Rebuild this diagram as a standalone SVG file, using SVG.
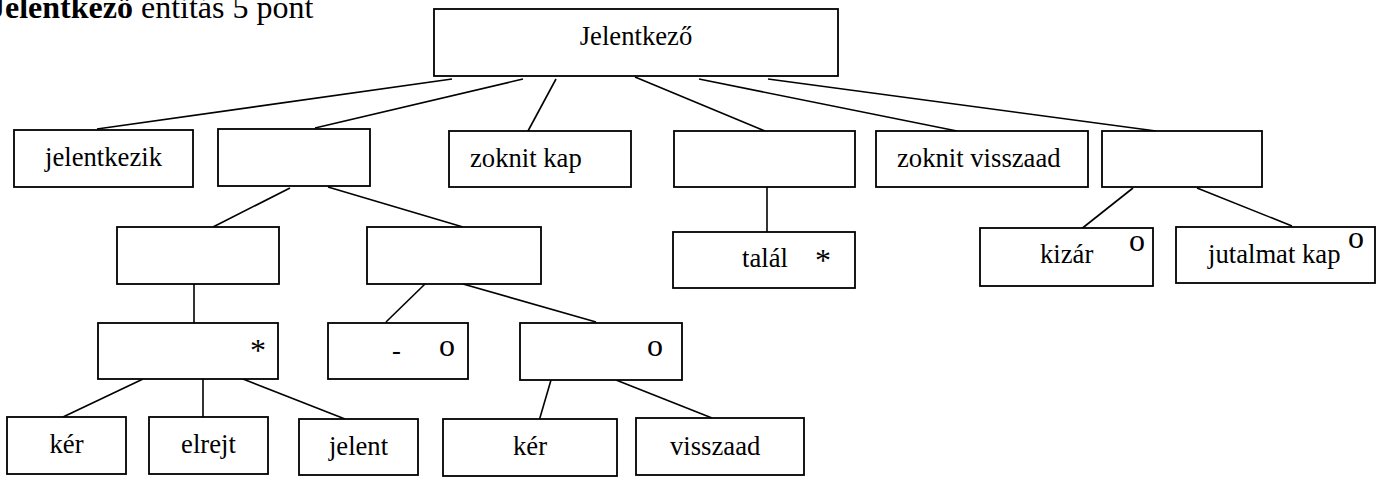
<svg xmlns="http://www.w3.org/2000/svg" width="1388" height="478" viewBox="0 0 1388 478">
<style>
rect{fill:#fff;stroke:#000;stroke-width:1.8}
text{font-family:"Liberation Serif","Times New Roman",serif;font-size:26.67px;fill:#000}
.c{text-anchor:middle}
.s{font-size:32px}
#connectors line{stroke:#000;stroke-width:1.6}
.title{font-size:32px}
</style>
<rect x="0" y="0" width="1388" height="478" style="fill:#fff;stroke:none"/>
<text class="title" x="-11" y="18"><tspan font-weight="bold">Jelentkező</tspan> entitás 5 pont</text>
<g id="connectors">
<line x1="452" y1="79" x2="97" y2="129"/>
<line x1="523" y1="79" x2="315" y2="128"/>
<line x1="556" y1="79" x2="528" y2="131"/>
<line x1="635" y1="77" x2="765" y2="131"/>
<line x1="699" y1="79" x2="957" y2="131"/>
<line x1="768" y1="79" x2="1156" y2="131"/>
<line x1="290" y1="188" x2="213" y2="227"/>
<line x1="328" y1="187" x2="463" y2="227"/>
<line x1="767" y1="187" x2="767" y2="232"/>
<line x1="1133" y1="188" x2="1080" y2="230"/>
<line x1="1197" y1="188" x2="1292" y2="226"/>
<line x1="194" y1="284" x2="194" y2="323"/>
<line x1="425" y1="284" x2="386" y2="322"/>
<line x1="463" y1="284" x2="596" y2="322"/>
<line x1="143" y1="379" x2="63" y2="417"/>
<line x1="203" y1="379" x2="203" y2="419"/>
<line x1="243" y1="379" x2="345" y2="419"/>
<line x1="551" y1="380" x2="539" y2="421"/>
<line x1="616" y1="380" x2="712" y2="418"/>
</g>
<g id="root"><rect x="434" y="9" width="404" height="67"/><text class="c" x="636" y="45">Jelentkező</text></g>
<g id="jelentkezik"><rect x="14" y="130" width="179" height="57"/><text class="c" x="103.5" y="166">jelentkezik</text></g>
<g id="seq1"><rect x="218" y="129" width="152" height="57"/></g>
<g id="zoknit-kap"><rect x="449" y="131" width="182" height="56"/><text x="470" y="167">zoknit kap</text></g>
<g id="seq2"><rect x="674" y="131" width="181" height="56"/></g>
<g id="zoknit-visszaad"><rect x="876" y="131" width="212" height="56"/><text x="897" y="167">zoknit visszaad</text></g>
<g id="sel1"><rect x="1102" y="131" width="160" height="56"/></g>
<g id="seq1a"><rect x="117" y="227" width="162" height="57"/></g>
<g id="seq1b"><rect x="367" y="227" width="174" height="57"/></g>
<g id="talal"><rect x="673" y="232" width="182" height="56"/><text x="742" y="267">talál</text><text class="s" x="815" y="271">*</text></g>
<g id="kizar"><rect x="980" y="228" width="173" height="58"/><text x="1040" y="263">kizár</text><text class="s" x="1129" y="251">o</text></g>
<g id="jutalmat-kap"><rect x="1176" y="227" width="199" height="56"/><text x="1208" y="263">jutalmat kap</text><text class="s" x="1348" y="248">o</text></g>
<g id="iter1"><rect x="98" y="323" width="180" height="56"/><text class="s" x="250" y="361">*</text></g>
<g id="empty-sel"><rect x="328" y="323" width="140" height="56"/><text x="392" y="359">-</text><text class="s" x="439" y="356">o</text></g>
<g id="sel2"><rect x="520" y="323" width="162" height="57"/><text class="s" x="647" y="356">o</text></g>
<g id="ker1"><rect x="7" y="417" width="119" height="57"/><text class="c" x="66.5" y="453">kér</text></g>
<g id="elrejt"><rect x="149" y="417" width="119" height="57"/><text class="c" x="208.5" y="453">elrejt</text></g>
<g id="jelent"><rect x="299" y="419" width="119" height="56"/><text class="c" x="358.5" y="455">jelent</text></g>
<g id="ker2"><rect x="443" y="419" width="174" height="57"/><text class="c" x="530" y="455">kér</text></g>
<g id="visszaad"><rect x="636" y="418" width="168" height="57"/><text x="670" y="455">visszaad</text></g>
</svg>
